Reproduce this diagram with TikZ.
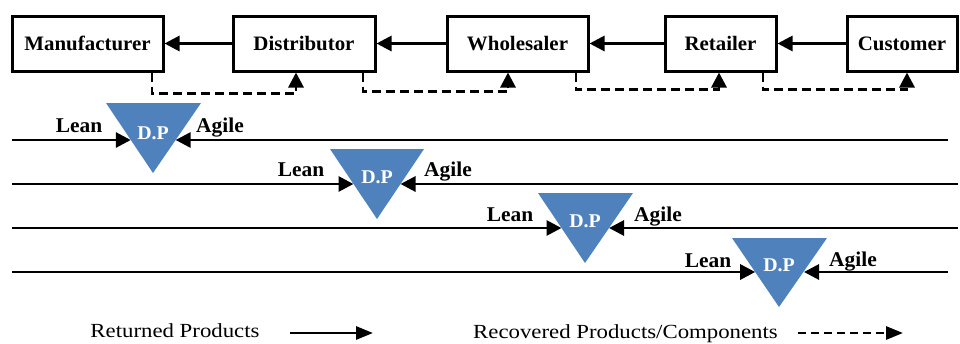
\documentclass[tikz,border=0pt]{standalone}
\usepackage{fontspec}
\setmainfont{Liberation Serif}[FakeStretch=1.14]
\newfontfamily\boldface{Liberation Serif}[FakeStretch=1.02]
\usetikzlibrary{arrows.meta,calc}
\definecolor{dpblue}{RGB}{79,129,189}
\begin{document}
\begin{tikzpicture}[x=1pt,y=-1pt,
  box/.style={draw, line width=3pt, inner sep=0pt, minimum height=55pt, yshift=-2pt,
    font=\boldface\bfseries\fontsize{20.5}{24}\selectfont},
  flow/.style={line width=2.9pt, -{Triangle[length=15pt,width=15pt]}},
  ret/.style={line width=2.9pt, dash pattern=on 9pt off 5pt, -{Triangle[length=15pt,width=15pt]}},
  lbl/.style={anchor=base, inner sep=0pt, font=\boldface\bfseries\fontsize{21}{24}\selectfont},
  dptext/.style={anchor=base, inner sep=0pt, text=white, font=\boldface\bfseries\fontsize{19.5}{23}\selectfont},
  leg/.style={anchor=base, inner sep=0pt, font=\fontsize{20}{23}\selectfont},
  legarr/.style={line width=2.9pt, -{Triangle[length=17pt,width=13pt]}},
  legdash/.style={line width=2.9pt, dash pattern=on 8pt off 5pt, -{Triangle[length=17pt,width=13pt]}}
]
\useasboundingbox (0,0) rectangle (960,343);

% boxes
\node[box, minimum width=151pt] (m) at (87.5,41.5) {Manufacturer};
\node[box, minimum width=142pt] (d) at (304,41.5) {Distributor};
\node[box, minimum width=141pt] (w) at (517.5,41.5) {Wholesaler};
\node[box, minimum width=111pt] (r) at (720.5,41.5) {Retailer};
\node[box, minimum width=110pt] (c) at (902,41.5) {Customer};

% forward arrows
\draw[flow] (d) -- (m);
\draw[flow] (w) -- (d);
\draw[flow] (r) -- (w);
\draw[flow] (c) -- (r);

% dashed return paths
\draw[ret] ([xshift=64.5pt]m.south) -- ++(0,21) -| ([xshift=-8pt]d.south);
\draw[ret] ([xshift=59pt]d.south) -- ++(0,19) -| ([xshift=-9.5pt]w.south);
\draw[ret] ([xshift=58.5pt]w.south) -- ++(0,17) -| ([xshift=-1.5pt]r.south);
\draw[ret] ([xshift=42.5pt]r.south) -- ++(0,17) -| ([xshift=5pt]c.south);

% decoupling point triangles
\fill[dpblue] (106,103) -- (201,103) -- (153,173) -- cycle;
\fill[dpblue] (330,149) -- (424,149) -- (377,219) -- cycle;
\fill[dpblue] (538,193) -- (633,193) -- (585,263) -- cycle;
\fill[dpblue] (732,238) -- (827,238) -- (779,307) -- cycle;

% line end coordinates
\coordinate (s1) at (12,140);  \coordinate (L1) at (130.8,140); \coordinate (A1) at (175.6,140); \coordinate (e1) at (948,140);
\coordinate (s2) at (12,184);  \coordinate (L2) at (353.5,184); \coordinate (A2) at (400.5,184); \coordinate (e2) at (958,184);
\coordinate (s3) at (12,228);  \coordinate (L3) at (561.5,228); \coordinate (A3) at (609,228);   \coordinate (e3) at (958,228);
\coordinate (s4) at (12,272);  \coordinate (L4) at (755.2,272); \coordinate (A4) at (804,272);   \coordinate (e4) at (948,272);

\foreach \i in {1,2,3,4}{
  \draw[flow] (s\i) -- (L\i);
  \draw[flow] (e\i) -- (A\i);
}

% labels
\node[dptext] (dp1) at (153,139) {D.P};
\node[dptext] (dp2) at (377,183) {D.P};
\node[dptext] (dp3) at (585,227) {D.P};
\node[dptext] (dp4) at (779,271) {D.P};

\node[lbl] (lean1) at (79,132) {Lean};
\node[lbl] (agile1) at (220,132) {Agile};
\node[lbl] (lean2) at (301,176) {Lean};
\node[lbl] (agile2) at (448,176) {Agile};
\node[lbl] (lean3) at (510,221) {Lean};
\node[lbl] (agile3) at (658,221) {Agile};
\node[lbl] (lean4) at (708,267) {Lean};
\node[lbl] (agile4) at (853,266) {Agile};

% legend
\node[leg] (lg1) at (175,337) {Returned Products};
\node[leg] (lg2) at (625.5,338) {Recovered Products/Components};
\coordinate (la1) at (290,333); \coordinate (lb1) at (373,333);
\coordinate (la2) at (798,333); \coordinate (lb2) at (903,333);
\draw[legarr] (la1) -- (lb1);
\draw[legdash] (la2) -- (lb2);
\end{tikzpicture}
\end{document}
